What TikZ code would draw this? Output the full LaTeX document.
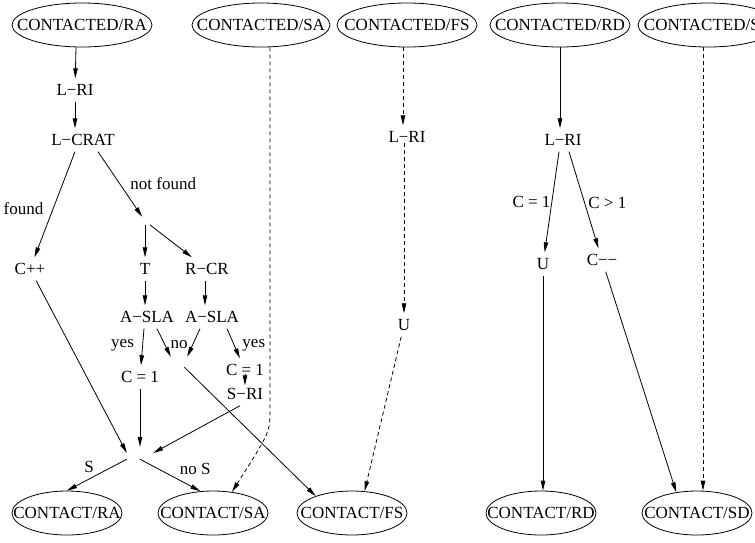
\documentclass[tikz,border=0pt]{standalone}
\usepackage{fontspec}
\setmainfont{Liberation Serif}
\usetikzlibrary{shapes.geometric,arrows.meta}
\def\ovaltext#1{\raisebox{-5.8pt}[0pt][0pt]{\makebox[0pt]{#1}}}
\tikzset{
  state/.style={draw, ellipse, line width=0.8pt, inner sep=0pt, minimum height=44pt},
  topstate/.style={state, minimum width=140pt},
  endstate/.style={state, minimum width=110pt},
  act/.style={inner xsep=3pt, inner ysep=4pt, text height=13pt, text depth=2pt},
  junct/.style={inner sep=0pt},
  flow/.style={line width=0.8pt, -{Triangle[length=10pt,width=4.5pt]}},
  dashedflow/.style={flow, dash pattern=on 4pt off 3pt}
}

\begin{document}
\begin{tikzpicture}[x=1pt, y=-1pt, font=\fontsize{17}{20}\selectfont]
  \useasboundingbox (0,0) rectangle (755,542);
  \clip (0,0) rectangle (755,542);

  % start states
  \node[topstate] (cra1) at (82,25) {\ovaltext{CONTACTED/RA}};
  \node[topstate, minimum width=138pt] (csa1) at (261,25) {\ovaltext{CONTACTED/SA}};
  \node[topstate] (cfs1) at (407,25) {\ovaltext{CONTACTED/FS}};
  \node[topstate] (crd1) at (560,25) {\ovaltext{CONTACTED/RD}};
  \node[topstate] (csd1) at (708,25) {\ovaltext{CONTACTED/SD}};

  % end states
  \node[endstate] (cra2) at (67,513) {\ovaltext{CONTACT/RA}};
  \node[endstate] (csa2) at (213,513) {\ovaltext{CONTACT/SA}};
  \node[endstate] (cfs2) at (352,513) {\ovaltext{CONTACT/FS}};
  \node[endstate] (crd2) at (541,513) {\ovaltext{CONTACT/RD}};
  \node[endstate] (csd2) at (697,513) {\ovaltext{CONTACT/SD}};

  % actions
  \node[act] (lri1) at (75,90) {L−RI};
  \node[act] (lcrat) at (83,140) {L−CRAT};
  \node[act] (cpp) at (30,269) {C++};
  \node[act] (t) at (145,269) {T};
  \node[act] (rcr) at (207,269) {R−CR};
  \node[act] (asla1) at (147,317) {A−SLA};
  \node[act] (asla2) at (212,317) {A−SLA};
  \node[act] (c1a) at (140,377) {C = 1};
  \node[act] (c1b) at (245,370) {C = 1};
  \node[act] (sri) at (245,394) {S−RI};
  \node[act] (lri3) at (407,137) {L−RI};
  \node[act] (u1) at (404,325) {U};
  \node[act] (lri4) at (563,140) {L−RI};
  \node[act] (u2) at (543,264) {U};
  \node[act] (cmm) at (602,260) {C−−};

  % branch points
  \node[junct, minimum width=10pt, minimum height=8pt] (j1) at (145,221) {};
  \node[junct, minimum width=16pt, minimum height=10pt] (j2) at (179,362) {};
  \node[junct, minimum width=26pt, minimum height=12pt] (j3) at (140,453) {};
  \coordinate (sabend) at (270,410);

  % CONTACTED/RA
  \draw[flow] ([xshift=-6pt]cra1.south) -- (lri1);
  \draw[flow] (lri1.south) -- (lri1.south |- lcrat.north);
  \draw[flow] ([xshift=-8pt]lcrat.south) -- (cpp) node[pos=.54, left=6pt] {found};
  \draw[flow] ([xshift=15pt]lcrat.south) -- (j1) node[pos=.49, right=7pt] {not found};
  \draw[flow] (j1) -- (t);
  \draw[flow] (j1) -- (rcr);
  \draw[flow] (t.south) -- (t.south |- asla1.north);
  \draw[flow] ([xshift=-2pt]rcr.south) -- ([xshift=-2pt]rcr.south |- asla2.north);
  \draw[flow] ([xshift=-3pt]asla1.south) -- (c1a) node[pos=.46, left=5pt] {yes};
  \draw[flow] ([xshift=10pt]asla1.south) -- (j2.north west);
  \draw[flow] ([xshift=-12pt]asla2.south) -- (j2.north east) node[pos=.55, left=1.5pt] {no};
  \draw[flow] ([xshift=15pt]asla2.south) -- (c1b) node[pos=.56, right=4.5pt] {yes};
  \draw[flow] ([yshift=8pt]c1b.south) -- ([yshift=-3pt]sri.north);
  \draw[flow] (j2) -- (cfs2.155);
  \draw[flow] (c1a.south) -- (c1a.south |- j3.north);
  \draw[flow] (cpp) -- (j3.west);
  \draw[flow] ([xshift=-5pt]sri.south) -- (j3.east);
  \draw[flow] (j3.south west) -- (cra2.north) node[pos=.63, above=2.5pt] {S};
  \draw[flow] (j3.south) -- (csa2.120) node[pos=.6, above right] {no S};

  % CONTACTED/SA
  \draw[dashedflow] ([xshift=9pt]csa1.south) -- (sabend) .. controls (270,432) .. (csa2.48);

  % CONTACTED/FS
  \draw[dashedflow] ([xshift=-4pt]cfs1.south) -- ([xshift=-4pt]cfs1.south |- lri3.north);
  \draw[dashedflow] (u1 |- lri3.base) -- (u1.north);
  \draw[dashedflow] (u1) -- (cfs2.60);

  % CONTACTED/RD
  \draw[flow] (crd1.south) -- (crd1.south |- lri4.north);
  \draw[flow] ([xshift=-4pt]lri4.south) -- (u2) node[pos=.5, left, inner sep=1pt] {C = 1};
  \draw[flow] ([xshift=6pt]lri4.south) -- (cmm) node[pos=.53, right] {C > 1};
  \draw[flow] (u2.south) -- (u2.south |- crd2.north);
  \draw[flow] (cmm) -- (csd2.135);

  % CONTACTED/SD
  \draw[dashedflow] ([xshift=-5pt]csd1.south) -- ([xshift=-5pt]csd1.south |- csd2.north);

\end{tikzpicture}
\end{document}
